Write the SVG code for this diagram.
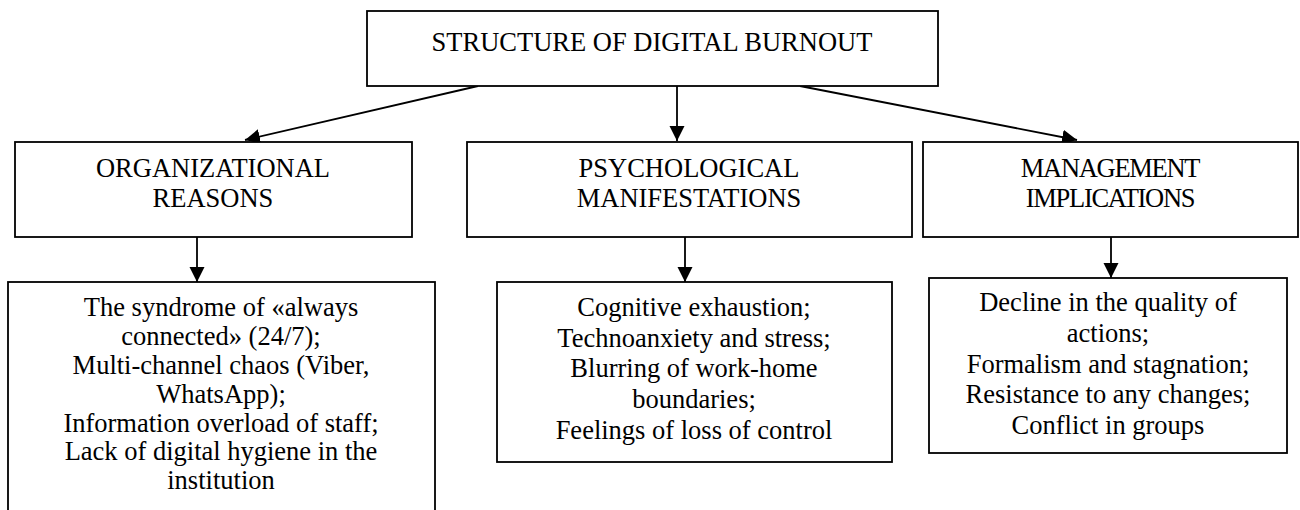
<svg xmlns="http://www.w3.org/2000/svg" width="1300" height="510" viewBox="0 0 1300 510">
  <style>
    .box { fill: #ffffff; stroke: #000000; stroke-width: 1.8; }
    .edge { fill: none; stroke: #000000; stroke-width: 1.8; }
    text { font-family: "Liberation Serif", "Times New Roman", serif; font-size: 26.5px; fill: #000000; text-anchor: middle; }
    .tight { letter-spacing: -1.3px; }
  </style>
  <defs>
    <marker id="arrow" markerUnits="userSpaceOnUse" markerWidth="16" markerHeight="16" refX="15" refY="7.5" orient="auto">
      <path d="M0,0 L15,7.5 L0,15 Z" fill="#000000"/>
    </marker>
  </defs>

  <rect width="1300" height="510" fill="#ffffff"/>

  <!-- connectors -->
  <g id="connectors">
    <line class="edge" x1="478" y1="86" x2="245" y2="140" marker-end="url(#arrow)"/>
    <line class="edge" x1="677" y1="86" x2="677" y2="141" marker-end="url(#arrow)"/>
    <line class="edge" x1="800" y1="86" x2="1077" y2="140" marker-end="url(#arrow)"/>
    <line class="edge" x1="197" y1="237" x2="197" y2="282" marker-end="url(#arrow)"/>
    <line class="edge" x1="685" y1="237" x2="685" y2="282" marker-end="url(#arrow)"/>
    <line class="edge" x1="1111" y1="237" x2="1111" y2="278" marker-end="url(#arrow)"/>
  </g>

  <!-- root -->
  <g id="root">
    <rect class="box" x="367" y="11" width="571" height="75"/>
    <text x="652" y="51">STRUCTURE OF DIGITAL BURNOUT</text>
  </g>

  <!-- categories -->
  <g id="organizational">
    <rect class="box" x="15" y="142" width="397" height="95"/>
    <text x="213" y="177">ORGANIZATIONAL</text>
    <text x="213" y="207">REASONS</text>
  </g>
  <g id="psychological">
    <rect class="box" x="467" y="142" width="445" height="95"/>
    <text x="689" y="177">PSYCHOLOGICAL</text>
    <text x="689" y="207">MANIFESTATIONS</text>
  </g>
  <g id="management">
    <rect class="box" x="923" y="142" width="375" height="95"/>
    <text class="tight" x="1110" y="177">MANAGEMENT</text>
    <text class="tight" x="1110" y="207">IMPLICATIONS</text>
  </g>

  <!-- details -->
  <g id="organizational-details">
    <rect class="box" x="8" y="282" width="427" height="240"/>
    <text x="221" y="316">The syndrome of «always</text>
    <text x="221" y="345">connected» (24/7);</text>
    <text x="221" y="374">Multi-channel chaos (Viber,</text>
    <text x="221" y="403">WhatsApp);</text>
    <text x="221" y="432">Information overload of staff;</text>
    <text x="221" y="460">Lack of digital hygiene in the</text>
    <text x="221" y="489">institution</text>
  </g>
  <g id="psychological-details">
    <rect class="box" x="497" y="282" width="395" height="180"/>
    <text x="694" y="316">Cognitive exhaustion;</text>
    <text x="694" y="347">Technoanxiety and stress;</text>
    <text x="694" y="377">Blurring of work-home</text>
    <text x="694" y="408">boundaries;</text>
    <text x="694" y="439">Feelings of loss of control</text>
  </g>
  <g id="management-details">
    <rect class="box" x="929" y="278" width="358" height="175"/>
    <text x="1108" y="311">Decline in the quality of</text>
    <text x="1108" y="342">actions;</text>
    <text x="1108" y="373">Formalism and stagnation;</text>
    <text x="1108" y="403">Resistance to any changes;</text>
    <text x="1108" y="434">Conflict in groups</text>
  </g>
</svg>
